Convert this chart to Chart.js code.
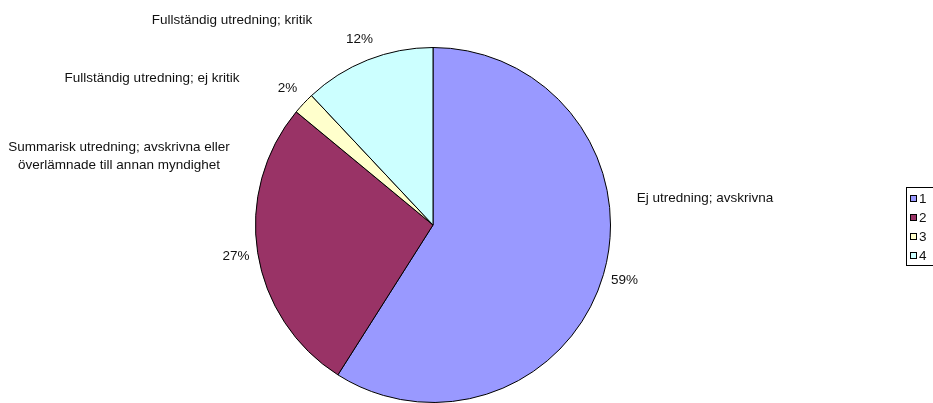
<!DOCTYPE html>
<html>
<head>
<meta charset="utf-8">
<script src="https://cdn.jsdelivr.net/npm/chart.js@4"></script>
<style>
  html, body { margin: 0; padding: 0; background: #fff; }
  #wrap { width: 933px; height: 403px; overflow: hidden; }
</style>
</head>
<body>
<div id="wrap"><canvas id="grafico" width="933" height="403"></canvas></div>
<script>
// categorías (leyenda 1..4), nombres y porcentajes
const categorias = ["1", "2", "3", "4"];
const nombres = [
  ["Ej utredning; avskrivna"],
  ["Summarisk utredning; avskrivna eller", "överlämnade till annan myndighet"],
  ["Fullständig utredning; ej kritik"],
  ["Fullständig utredning; kritik"]
];
const valores = [59, 27, 2, 12];
const colores = ["#9999FF", "#993366", "#FFFFCC", "#CCFFFF"];

const FONT = "13.5px 'Liberation Sans', Arial, sans-serif";

// posición de cada nombre, relativa al centro de la torta
const posNombres = [
  { dx: 272, dy: -27 },
  { dx: -314, dy: -78 },
  { dx: -281, dy: -147 },
  { dx: -201, dy: -205 }
];

const etiquetas = {
  id: "etiquetas",
  afterDraw(chart){
    const ctx = chart.ctx;
    const arcs = chart.getDatasetMeta(0).data;
    const total = valores.reduce((a, b) => a + b, 0);
    ctx.save();
    ctx.font = FONT;
    ctx.fillStyle = "#111";
    ctx.textAlign = "center";
    ctx.textBaseline = "middle";

    arcs.forEach((arc, i) => {
      const { x, y, outerRadius, startAngle, endAngle } = arc.getProps(["x", "y", "outerRadius", "startAngle", "endAngle"], true);
      const mid = (startAngle + endAngle) / 2;
      const r = outerRadius + 22;
      const pct = Math.round(valores[i] / total * 100) + "%";
      ctx.fillText(pct, x + Math.cos(mid) * r, y + Math.sin(mid) * r);

      const p = posNombres[i];
      nombres[i].forEach((t, k) => {
        ctx.fillText(t, x + p.dx, y + p.dy + k * 18);
      });
    });

    // leyenda a la derecha
    const lx = 906, ly = 187, lh = 78;
    ctx.strokeStyle = "#000";
    ctx.lineWidth = 1;
    ctx.strokeRect(lx + 0.5, ly + 0.5, 40, lh);
    ctx.textAlign = "left";
    categorias.forEach((c, i) => {
      const cy = 198 + i * 19;
      ctx.fillStyle = colores[i];
      ctx.fillRect(910, cy - 3, 7, 7);
      ctx.strokeRect(910.5, cy - 3 + 0.5, 6, 6);
      ctx.fillStyle = "#111";
      ctx.fillText(c, 919, cy + 1);
    });
    ctx.restore();
  }
};

new Chart(document.getElementById("grafico").getContext("2d"), {
  type: "pie",
  data: {
    labels: categorias,
    datasets: [{
      data: valores,
      backgroundColor: colores,
      borderColor: "#000",
      borderWidth: 1,
      hoverOffset: 0
    }]
  },
  options: {
    responsive: false,
    animation: false,
    events: [],
    layout: { padding: { left: 255, right: 322, top: 47, bottom: 0 } },
    plugins: {
      legend: { display: false },
      tooltip: { enabled: false }
    }
  },
  plugins: [etiquetas]
});
</script>
</body>
</html>
